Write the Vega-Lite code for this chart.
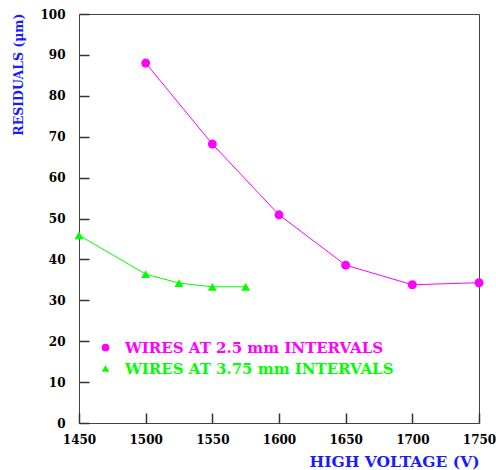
{
  "$schema": "https://vega.github.io/schema/vega-lite/v6.json",
  "width": 400,
  "height": 409,
  "autosize": {"type": "none"},
  "padding": {"left": 79, "top": 14, "right": 17, "bottom": 47},
  "background": "white",
  "config": {
    "view": {"stroke": "#444444", "strokeWidth": 1},
    "axis": {
      "labelFont": "DejaVu Serif",
      "labelFontWeight": "bold",
      "labelFontSize": 12,
      "labelColor": "black",
      "labelFlush": false,
      "domain": false,
      "grid": false,
      "titleFont": "DejaVu Serif",
      "titleFontWeight": "bold",
      "titleColor": "#1a1aff"
    },
    "legend": {
      "orient": "none", "legendX": 19, "legendY": 326, "title": null, "padding": 0,
      "labelFont": "DejaVu Serif", "labelFontWeight": "bold", "labelFontSize": 15,
      "labelLimit": 400, "symbolSize": 60, "labelOffset": 12, "rowPadding": 5, "symbolStrokeWidth": 0
    }
  },
  "data": {
    "values": [
      {"series": "WIRES AT 2.5 mm INTERVALS", "hv": 1500, "res": 88.0},
      {"series": "WIRES AT 2.5 mm INTERVALS", "hv": 1550, "res": 68.2},
      {"series": "WIRES AT 2.5 mm INTERVALS", "hv": 1600, "res": 50.9},
      {"series": "WIRES AT 2.5 mm INTERVALS", "hv": 1650, "res": 38.6},
      {"series": "WIRES AT 2.5 mm INTERVALS", "hv": 1700, "res": 33.8},
      {"series": "WIRES AT 2.5 mm INTERVALS", "hv": 1750, "res": 34.3},
      {"series": "WIRES AT 3.75 mm INTERVALS", "hv": 1450, "res": 45.9},
      {"series": "WIRES AT 3.75 mm INTERVALS", "hv": 1500, "res": 36.4},
      {"series": "WIRES AT 3.75 mm INTERVALS", "hv": 1525, "res": 34.2},
      {"series": "WIRES AT 3.75 mm INTERVALS", "hv": 1550, "res": 33.3},
      {"series": "WIRES AT 3.75 mm INTERVALS", "hv": 1575, "res": 33.3}
    ]
  },
  "layer": [
    {
      "transform": [{"filter": "datum.series === 'WIRES AT 2.5 mm INTERVALS'"}],
      "mark": {"type": "line", "color": "#ff00ff", "strokeWidth": 1},
      "encoding": {
        "x": {
          "field": "hv", "type": "quantitative",
          "scale": {"domain": [1450, 1750], "nice": false, "zero": false},
          "axis": {
            "orient": "bottom",
            "offset": -10,
            "ticks": true,
            "tickColor": "#333333",
            "tickWidth": 1.5,
            "values": [1450, 1500, 1550, 1600, 1650, 1700, 1750],
            "format": "d",
            "tickSize": 10,
            "labelPadding": 11,
            "title": "HIGH VOLTAGE (V)",
            "titleFontSize": 15.5,
            "titleAnchor": "end",
            "titleAlign": "right",
            "titleBaseline": "alphabetic",
            "titleX": 400,
            "titleY": 53
          }
        },
        "y": {
          "field": "res", "type": "quantitative",
          "scale": {"domain": [0, 100], "nice": false},
          "axis": {
            "orient": "left",
            "offset": -10,
            "ticks": true,
            "tickColor": "#333333",
            "tickWidth": 1.5,
            "values": [0, 10, 20, 30, 40, 50, 60, 70, 80, 90, 100],
            "tickSize": 10,
            "labelPadding": 14,
            "title": "RESIDUALS (μm)",
            "titleFontSize": 12.5,
            "titleAngle": 270,
            "titleAlign": "right",
            "titleBaseline": "middle",
            "titleX": -71,
            "titleY": -1
          }
        }
      }
    },
    {
      "transform": [{"filter": "datum.series === 'WIRES AT 2.5 mm INTERVALS'"}],
      "mark": {"type": "point", "filled": true, "opacity": 1, "size": 80},
      "encoding": {
        "x": {"field": "hv", "type": "quantitative"},
        "y": {"field": "res", "type": "quantitative"},
        "color": {
          "field": "series", "type": "nominal",
          "scale": {"domain": ["WIRES AT 2.5 mm INTERVALS", "WIRES AT 3.75 mm INTERVALS"], "range": ["#ff00ff", "#00ff00"]},
          "legend": {
            "labelColor": {"expr": "datum.value === 'WIRES AT 2.5 mm INTERVALS' ? '#ff00ff' : '#00ff00'"}
          }
        },
        "shape": {
          "field": "series", "type": "nominal",
          "scale": {"domain": ["WIRES AT 2.5 mm INTERVALS", "WIRES AT 3.75 mm INTERVALS"], "range": ["circle", "triangle-up"]},
          "legend": {
            "labelColor": {"expr": "datum.value === 'WIRES AT 2.5 mm INTERVALS' ? '#ff00ff' : '#00ff00'"}
          }
        }
      }
    },
    {
      "transform": [{"filter": "datum.series === 'WIRES AT 3.75 mm INTERVALS'"}],
      "mark": {"type": "line", "color": "#00ff00", "strokeWidth": 1},
      "encoding": {
        "x": {"field": "hv", "type": "quantitative"},
        "y": {"field": "res", "type": "quantitative"}
      }
    },
    {
      "transform": [{"filter": "datum.series === 'WIRES AT 3.75 mm INTERVALS'"}],
      "mark": {"type": "point", "filled": true, "opacity": 1, "size": 80},
      "encoding": {
        "x": {"field": "hv", "type": "quantitative"},
        "y": {"field": "res", "type": "quantitative"},
        "color": {
          "field": "series", "type": "nominal",
          "scale": {"domain": ["WIRES AT 2.5 mm INTERVALS", "WIRES AT 3.75 mm INTERVALS"], "range": ["#ff00ff", "#00ff00"]},
          "legend": {
            "labelColor": {"expr": "datum.value === 'WIRES AT 2.5 mm INTERVALS' ? '#ff00ff' : '#00ff00'"}
          }
        },
        "shape": {
          "field": "series", "type": "nominal",
          "scale": {"domain": ["WIRES AT 2.5 mm INTERVALS", "WIRES AT 3.75 mm INTERVALS"], "range": ["circle", "triangle-up"]},
          "legend": {
            "labelColor": {"expr": "datum.value === 'WIRES AT 2.5 mm INTERVALS' ? '#ff00ff' : '#00ff00'"}
          }
        }
      }
    }
  ]
}
